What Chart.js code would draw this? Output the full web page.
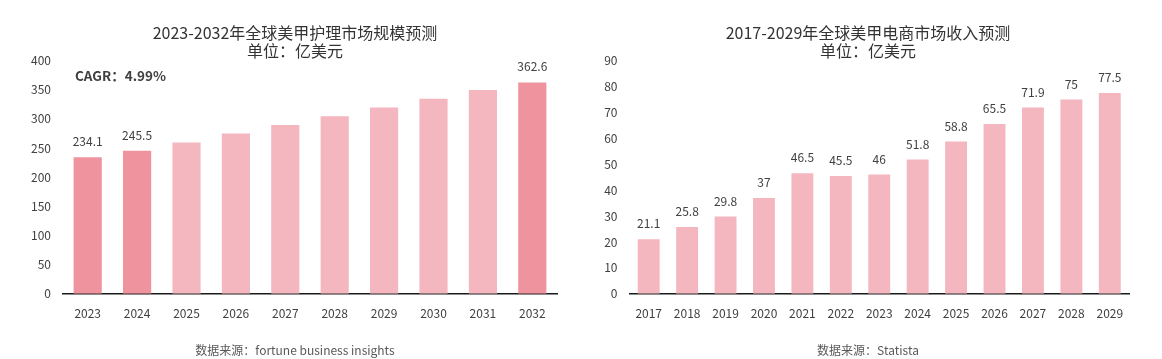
<!DOCTYPE html>
<html>
<head>
<meta charset="utf-8">
<script src="https://cdn.jsdelivr.net/npm/chart.js@4.4.1/dist/chart.umd.min.js"></script>
<style>
  html, body { margin: 0; padding: 0; background: #ffffff; }
  #wrap { position: relative; width: 1162px; height: 359px; overflow: hidden; }
  #c1 { position: absolute; left: 0; top: 0; }
  #c2 { position: absolute; left: 580px; top: 0; }
</style>
</head>
<body>
<div id="wrap">
  <canvas id="c1" width="590" height="359"></canvas>
  <canvas id="c2" width="576" height="359"></canvas>
</div>
<script>
// ---------- Data: chart 1 (global nail care market size) ----------
const careYears = ['2023','2024','2025','2026','2027','2028','2029','2030','2031','2032'];
const careValues = [234.1, 245.5, 259.5, 275.0, 289.5, 304.5, 319.5, 334.5, 349.5, 362.6];
const careHighlight = ['2023','2024','2032'];
const careTicks = [0, 50, 100, 150, 200, 250, 300, 350, 400];
const careTitle = ['2023-2032年全球美甲护理市场规模预测', '单位：亿美元'];
const careNote = 'CAGR：4.99%';
const careSource = '数据来源：fortune business insights';

// ---------- Data: chart 2 (global nail e-commerce revenue) ----------
const ecomYears = ['2017','2018','2019','2020','2021','2022','2023','2024','2025','2026','2027','2028','2029'];
const ecomValues = [21.1, 25.8, 29.8, 37, 46.5, 45.5, 46, 51.8, 58.8, 65.5, 71.9, 75, 77.5];
const ecomTicks = [0, 10, 20, 30, 40, 50, 60, 70, 80, 90];
const ecomTitle = ['2017-2029年全球美甲电商市场收入预测', '单位：亿美元'];
const ecomSource = '数据来源：Statista';

// ---------- Styling ----------
const FONT = "'Noto Sans CJK SC', 'Noto Sans', sans-serif";
const DARK = '#EF939E';
const LIGHT = '#F4B7BF';
const TEXT = '#404040';

// Value labels above bars + CAGR note
const valueLabelPlugin = {
  id: 'valueLabels',
  afterLayout(chart) {
    // center title / source over the whole canvas
    chart.boxes.forEach(b => {
      if (b.fullSize && b.options && b.options.text !== undefined && !b.axis) {
        b.left = 0;
        b.right = chart.width;
        b.width = chart.width;
      }
    });
  },
  afterDatasetsDraw(chart, args, opts) {
    const ctx = chart.ctx;
    const ds = chart.data.datasets[0];
    const meta = chart.getDatasetMeta(0);
    ctx.save();
    ctx.font = '12px ' + FONT;
    ctx.fillStyle = TEXT;
    ctx.textAlign = 'center';
    ctx.textBaseline = 'middle';
    meta.data.forEach((bar, i) => {
      const lbl = chart.data.labels[i];
      if (opts.only && !opts.only.includes(lbl)) return;
      ctx.fillText(String(ds.data[i]), bar.x, bar.y - 15.5);
    });
    if (opts.note) {
      ctx.font = 'bold 13.5px ' + FONT;
      ctx.textAlign = 'left';
      ctx.fillStyle = TEXT;
      ctx.fillText(opts.note, chart.chartArea.left + 12, chart.chartArea.top + 15);
    }
    ctx.restore();
  }
};

function makeChart(id, labels, values, colors, ticks, title, source, yWidth, padRight, labelOpts) {
  const tickSet = ticks;
  return new Chart(document.getElementById(id), {
    type: 'bar',
    data: {
      labels: labels,
      datasets: [{
        data: values,
        backgroundColor: colors,
        borderWidth: 0,
        categoryPercentage: 1.0,
        barPercentage: 0.57
      }]
    },
    options: {
      responsive: false,
      animation: false,
      devicePixelRatio: 1,
      layout: { padding: { left: 0, right: padRight, top: 0, bottom: 0 } },
      plugins: {
        legend: { display: false },
        tooltip: { enabled: false },
        title: {
          display: true,
          text: title,
          color: '#333333',
          font: { family: FONT, size: 16, weight: 'normal', lineHeight: 1.15 },
          padding: { top: 23.8, bottom: 0 }
        },
        subtitle: {
          display: true,
          position: 'bottom',
          text: source,
          color: '#595959',
          font: { family: FONT, size: 12, weight: 'normal', lineHeight: 1.2 },
          padding: { top: 11.4, bottom: 1 }
        },
        valueLabels: labelOpts
      },
      scales: {
        x: {
          grid: { display: true, color: 'rgba(0,0,0,0)', drawTicks: false },
          border: { display: true, color: '#1a1a1a', width: 1.5 },
          ticks: { color: TEXT, font: { family: FONT, size: 12 }, padding: 12, maxRotation: 0, autoSkip: false }
        },
        y: {
          min: tickSet[0],
          max: tickSet[tickSet.length - 1],
          afterFit(scale) { scale.width = yWidth; },
          afterBuildTicks(scale) { scale.ticks = tickSet.map(v => ({ value: v })); },
          grid: { display: false, drawTicks: false },
          border: { display: false },
          ticks: { color: TEXT, font: { family: FONT, size: 12 }, padding: 12 }
        }
      }
    },
    plugins: [valueLabelPlugin]
  });
}

makeChart('c1', careYears, careValues,
  careYears.map(y => careHighlight.includes(y) ? DARK : LIGHT),
  careTicks, careTitle, careSource, 63, 33,
  { only: careHighlight, note: careNote });

makeChart('c2', ecomYears, ecomValues,
  ecomYears.map(() => LIGHT),
  ecomTicks, ecomTitle, ecomSource, 49.5, 27,
  { only: null, note: null });
</script>
</body>
</html>
